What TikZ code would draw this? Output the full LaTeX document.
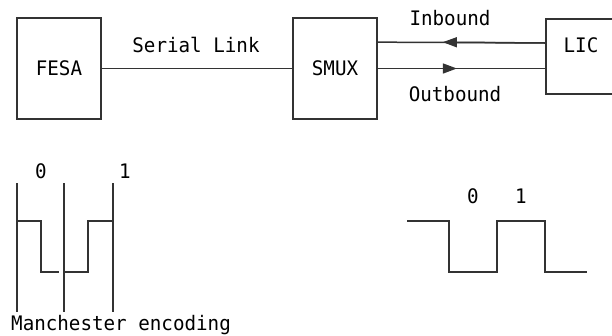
\documentclass[tikz,border=0pt]{standalone}
\usepackage{fontspec}
\newfontfamily\diagfont[FakeStretch=0.96]{DejaVu Sans Mono}
\usetikzlibrary{arrows.meta,calc}
\definecolor{ink}{HTML}{333333}
\tikzset{
  box/.style={draw=ink, line width=1.7pt, rectangle, inner sep=0pt},
  txt/.style={inner sep=0pt, font=\diagfont\fontsize{20}{20}\selectfont, text=black},
  wire/.style={draw=ink, line width=1.5pt},
  bar/.style={draw=ink, line width=1.9pt},
  wave/.style={draw=ink, line width=1.5pt},
  tip/.style={-{Triangle[length=14pt,width=10pt]}}
}
\begin{document}
\begin{tikzpicture}[x=1pt,y=-1pt]
\useasboundingbox (0,0) rectangle (612,335);
% boxes
\node[box, txt, draw=ink, minimum width=84pt, minimum height=101pt] (fesa) at (59,68.5) {FESA};
\node[box, txt, draw=ink, minimum width=84pt, minimum height=101pt] (smux) at (335,68.5) {SMUX};
\node[box, minimum width=84pt, minimum height=75pt, anchor=north west] (lic) at (545,18) {};
\node[txt, anchor=base] (lictext) at (581,52) {LIC};
% connectors
\coordinate (inR) at ($(lic.north west)+(0,25)$);
\coordinate (inL) at ($(smux.north east)+(0,25)$);
\coordinate (inTip) at ($(inL)+(65,0)$);
\coordinate (outR) at ($(lic.north west)+(0,50.5)$);
\coordinate (outTip) at ($(smux.east)+(79,0)$);
\draw[wire] (inL) -- (inR);
\draw[wire] (smux.east) -- (outR);
\draw[wire, tip] (inR) -- (inTip);
\draw[wire, tip] (smux.east) -- (outTip);
\draw[wire] (fesa.east) -- (smux.west);
% labels
\node[txt, anchor=base] (serial) at (196,52) {Serial Link};
\node[txt, anchor=base] (inbound) at (450,25) {Inbound};
\node[txt, anchor=base] (outbound) at (455,101) {Outbound};
% Manchester encoding
\coordinate (v1t) at (17,183); \coordinate (v1b) at (17,312);
\coordinate (v2t) at (64,183); \coordinate (v2b) at (64,312);
\coordinate (v3t) at (113,183); \coordinate (v3b) at (113,312);
\draw[bar] (v1t) -- (v1b);
\draw[bar] (v2t) -- (v2b);
\draw[bar] (v3t) -- (v3b);
\draw[wave] (17,221) -- (41,221) -- (41,272) -- (59,272);
\draw[wave] (65,272) -- (88,272) -- (88,221) -- (113,221);
\node[txt, anchor=base] (m0) at (41,178) {0};
\node[txt, anchor=base] (m1) at (125,178) {1};
\node[txt, anchor=base west] (mlabel) at (11,330) {Manchester encoding};
% NRZ waveform
\draw[wave] (407,221) -- (449,221) -- (449,272) -- (497,272) -- (497,221) -- (545,221) -- (545,272) -- (587,272);
\node[txt, anchor=base] (n0) at (473,203) {0};
\node[txt, anchor=base] (n1) at (521,203) {1};
\end{tikzpicture}
\end{document}
